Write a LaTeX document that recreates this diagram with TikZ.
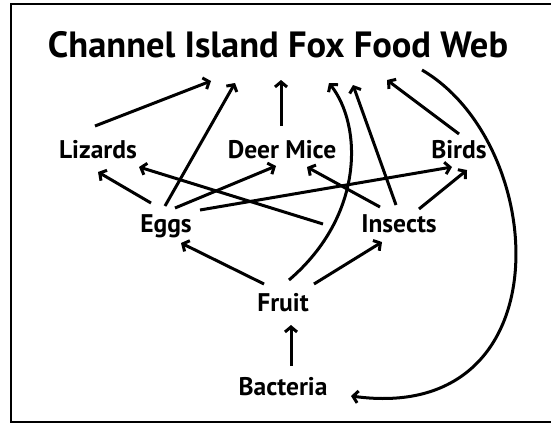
\documentclass[tikz,border=0pt]{standalone}
\usepackage{fontspec}
\setmainfont{PT Sans}
\usepackage{tikz}
\usetikzlibrary{arrows.meta, calc}

\begin{document}
\begin{tikzpicture}[x=1pt, y=-1pt, >={Straight Barb[length=5pt, width=12pt]},
    species/.style={font=\bfseries\fontsize{25.5}{25.5}\selectfont, inner sep=0pt, anchor=base},
    link/.style={->, line width=3pt}]
        % Marco de la figura
        \useasboundingbox (0,0) rectangle (551,423);
        \draw[line width=2.6pt] (553,4) -- (11,4) -- (11,422) -- (553,422);

        % Titulo
        \node[species, font=\bfseries\fontsize{36.5}{36.5}\selectfont] (title) at (278,57) {Channel Island Fox Food Web};

        % Especies de la red
        \node[species] (lizards) at (98,158) {Lizards};
        \node[species] (deer_mice) at (282,158) {Deer Mice};
        \node[species] (birds) at (459,158) {Birds};
        \node[species] (eggs) at (166,232) {Eggs};
        \node[species] (insects) at (399,232) {Insects};
        \node[species] (fruit) at (283,311) {Fruit};
        \node[species] (bacteria) at (283,395) {Bacteria};

        % Flechas hacia el zorro (titulo)
        \draw[link] ($(lizards.base)+(-3,-32)$) -- ($(title.base)+(-67,24)$);
        \draw[link] ($(eggs.base)+(-1,-26)$) -- ($(title.base)+(-43,26)$);
        \draw[link] ($(deer_mice.base)+(-1,-32)$) -- ($(title.base)+(3,23)$);
        \draw[link] ($(fruit.base)+(6,-31)$) .. controls +(76,-65) and +(33,42) .. ($(title.base)+(51,26)$);
        \draw[link] ($(insects.base)+(-3,-27)$) -- ($(title.base)+(75,28)$);
        \draw[link] ($(birds.base)+(0,-24)$) -- ($(title.base)+(109,23)$);

        % Del zorro a las bacterias
        \draw[link] ($(title.base)+(144,13)$) .. controls +(128,75) and +(214,29) .. ($(bacteria.base)+(68,1)$);

        % Flechas entre especies
        \draw[link] ($(eggs.base)+(-15,-29)$) -- ($(lizards.base)+(0,14)$);
        \draw[link] ($(insects.base)+(-76,-8)$) -- ($(lizards.base)+(41,9)$);
        \draw[link] ($(eggs.base)+(9,-24)$) -- ($(deer_mice.base)+(-6,8)$);
        \draw[link] ($(eggs.base)+(34,-22)$) -- ($(birds.base)+(-7,9)$);
        \draw[link] ($(insects.base)+(-19,-25)$) -- ($(deer_mice.base)+(25,9)$);
        \draw[link] ($(insects.base)+(20,-23)$) -- ($(birds.base)+(8,12)$);
        \draw[link] ($(fruit.base)+(-19,-27)$) -- ($(eggs.base)+(15,11)$);
        \draw[link] ($(fruit.base)+(31,-27)$) -- ($(insects.base)+(-17,10)$);
        \draw[link] ($(bacteria.base)+(8,-29)$) -- ($(fruit.base)+(8,14)$);
    \end{tikzpicture}
\end{document}
